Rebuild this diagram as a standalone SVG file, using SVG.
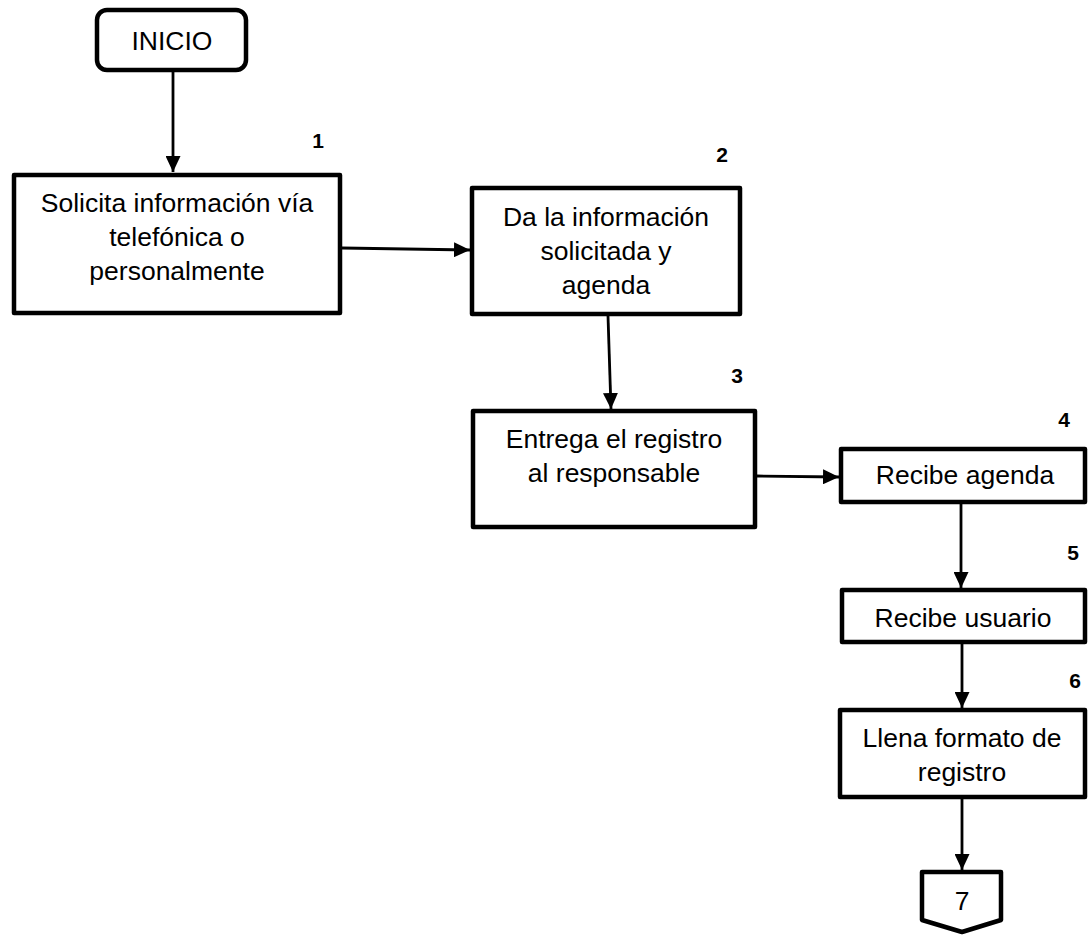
<svg xmlns="http://www.w3.org/2000/svg" width="1088" height="936" viewBox="0 0 1088 936">
<defs>
<marker id="arr" markerUnits="userSpaceOnUse" markerWidth="17" markerHeight="15" refX="16" refY="7.5" orient="auto">
<path d="M0,0 L16,7.5 L0,15 Z" fill="#000"/>
</marker>
<style>
.box{fill:#fff;stroke:#000;stroke-width:4.5;stroke-linejoin:round}
.t{font-family:"Liberation Sans",Arial,sans-serif;font-size:26.5px;fill:#000;text-anchor:middle}
.n{font-family:"Liberation Sans",Arial,sans-serif;font-size:21px;font-weight:bold;fill:#000;text-anchor:middle}
.c{fill:none;stroke:#000;stroke-width:2.8}
</style>
</defs>
<rect width="1088" height="936" fill="#fff"/>
<g id="connectors">
<path class="c" d="M173 72 V172" marker-end="url(#arr)"/>
<path class="c" d="M342 248 L470 250" marker-end="url(#arr)"/>
<path class="c" d="M608 316 L611 409" marker-end="url(#arr)"/>
<path class="c" d="M757 476 L839 477" marker-end="url(#arr)"/>
<path class="c" d="M961 504 V588" marker-end="url(#arr)"/>
<path class="c" d="M962 644 V708" marker-end="url(#arr)"/>
<path class="c" d="M962 799 V870" marker-end="url(#arr)"/>
</g>
<g id="inicio">
<rect class="box" x="97" y="10" width="149" height="60" rx="10"/>
<text class="t" x="172" y="50">INICIO</text>
</g>
<g id="step1">
<rect class="box" x="14" y="175" width="326" height="138"/>
<text class="t" x="177" y="212">Solicita información vía</text>
<text class="t" x="177" y="246">telefónica o</text>
<text class="t" x="177" y="280">personalmente</text>
<text class="n" x="318" y="148">1</text>
</g>
<g id="step2">
<rect class="box" x="472" y="188" width="268" height="126"/>
<text class="t" x="606" y="226">Da la información</text>
<text class="t" x="606" y="260">solicitada y</text>
<text class="t" x="606" y="294">agenda</text>
<text class="n" x="722" y="162">2</text>
</g>
<g id="step3">
<rect class="box" x="473" y="411" width="282" height="116"/>
<text class="t" x="614" y="448">Entrega el registro</text>
<text class="t" x="614" y="482">al responsable</text>
<text class="n" x="737" y="383">3</text>
</g>
<g id="step4">
<rect class="box" x="841" y="449" width="244" height="53"/>
<text class="t" x="965" y="484">Recibe agenda</text>
<text class="n" x="1064" y="427">4</text>
</g>
<g id="step5">
<rect class="box" x="842" y="590" width="243" height="52"/>
<text class="t" x="963" y="627">Recibe usuario</text>
<text class="n" x="1073" y="560">5</text>
</g>
<g id="step6">
<rect class="box" x="840" y="710" width="245" height="87"/>
<text class="t" x="962" y="747">Llena formato de</text>
<text class="t" x="962" y="781">registro</text>
<text class="n" x="1075" y="688">6</text>
</g>
<g id="connector7">
<path class="box" d="M922 872 H1001 V920 L962 932 L922 920 Z"/>
<text class="t" x="962" y="910">7</text>
</g>
</svg>
